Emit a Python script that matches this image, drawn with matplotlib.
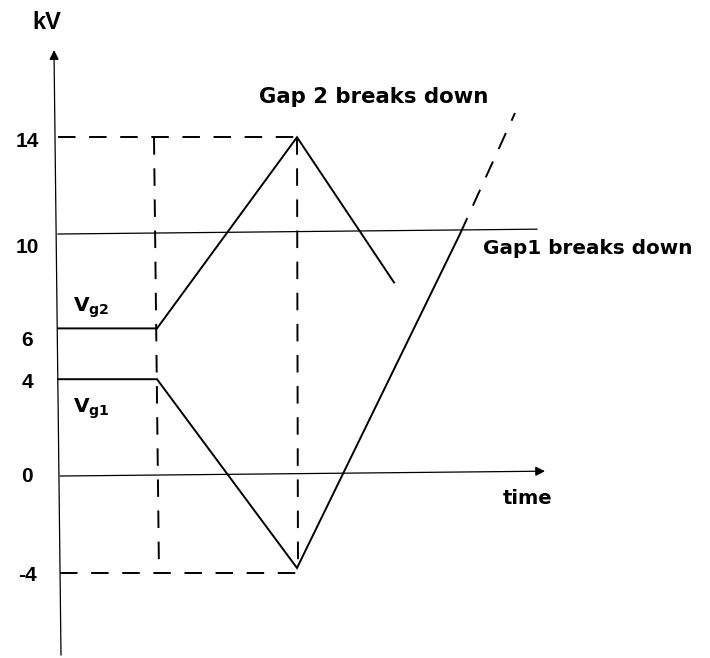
import matplotlib.pyplot as plt

plt.rcParams['font.family'] = ['Liberation Sans', 'DejaVu Sans']
plt.rcParams['mathtext.fontset'] = 'custom'
plt.rcParams['mathtext.rm'] = 'DejaVu Sans'
plt.rcParams['mathtext.bf'] = 'DejaVu Sans:bold'

# gap voltages (kV) against time (arbitrary units)
vg2_t = [0.1, 10, 24, 33.7]
vg2 = [6.1, 6.1, 14, 8.0]
vg1_t = [0.1, 10, 24, 40.3]
vg1 = [4, 4, -3.8, 10]
vg1_ext_t = [40.3, 45.8]
vg1_ext = [10, 15.0]

breakdown_level = 10
peak_level = 14
trough_level = -4
step_time = 10
peak_time = 24

tick_values = [14, 10, 6, 4, 0, -4]
tick_labels = ['14', '10', '6', '4', '0', '-4']
tick_label_y = [13.84, 9.46, 5.62, 3.88, 0, -4.13]

fig = plt.figure(figsize=(7.1, 6.58), dpi=100)
ax = fig.add_axes([0, 0, 1, 1])
ax.set_xlim(-5.7, 65.3)
ax.set_ylim(-7.52, 19.67)
ax.axis('off')

dash = (0, (9, 7))

# axes with arrows
ax.annotate('', xy=(-0.3, 17.6), xytext=(0.4, -7.4),
            arrowprops=dict(arrowstyle='-|>', color='black', lw=0.9,
                            mutation_scale=14, shrinkA=0, shrinkB=0))
ax.annotate('', xy=(48.8, 0.2), xytext=(0.3, 0),
            arrowprops=dict(arrowstyle='-|>', color='black', lw=0.9,
                            mutation_scale=14, shrinkA=0, shrinkB=0))

# breakdown level
ax.plot([0.1, 48.0], [breakdown_level, breakdown_level + 0.2], color='black', lw=0.9)

# dashed guides
ax.plot([0.1, peak_time], [peak_level, peak_level], color='black', lw=1.4, linestyle=dash)
ax.plot([step_time - 0.3, step_time + 0.2], [peak_level, trough_level], color='black', lw=1.4, linestyle=dash)
ax.plot([0.3, peak_time], [trough_level, trough_level], color='black', lw=1.4, linestyle=dash)
ax.plot([peak_time, peak_time + 0.1], [peak_level, -3.8], color='black', lw=1.4, linestyle=dash)

# gap voltages
ax.plot(vg2_t, vg2, color='black', lw=1.4, solid_joinstyle='miter')
ax.plot(vg1_t, vg1, color='black', lw=1.4, solid_joinstyle='miter')
ax.plot(vg1_ext_t, vg1_ext, color='black', lw=1.4, linestyle=dash)

# labels
for lab, y in zip(tick_labels, tick_label_y):
    ax.text(-3.0, y, lab, ha='center', va='center', fontsize=15, fontweight='bold')

bold = dict(family='DejaVu Sans', fontweight='bold')
ax.text(-1.0, 18.72, 'kV', ha='center', va='center', fontsize=17, fontweight='bold')
ax.text(20.2, 15.66, 'Gap 2 breaks down', ha='left', va='center', fontsize=15.3, **bold)
ax.text(42.6, 9.42, 'Gap1 breaks down', ha='left', va='center', fontsize=14.4, **bold)
ax.text(44.6, -0.91, 'time', ha='left', va='center', fontsize=14, **bold)
ax.text(1.6, 6.95, r'$\mathbf{V_{g2}}$', ha='left', va='center', fontsize=14.5)
ax.text(1.6, 2.8, r'$\mathbf{V_{g1}}$', ha='left', va='center', fontsize=14.5)

fig.savefig('out.png', dpi=100)
